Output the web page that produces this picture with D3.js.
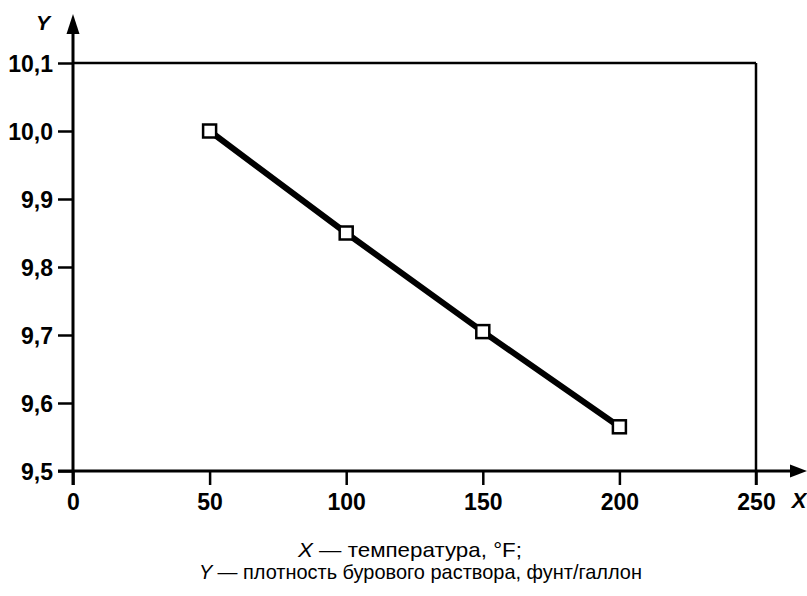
<!DOCTYPE html>
<html><head><meta charset="utf-8">
<script src="https://cdn.jsdelivr.net/npm/d3@7"></script>
<style>body{margin:0;background:#fff}svg{display:block}text{font-family:"Liberation Sans",Arial,sans-serif}</style>
</head><body>
<svg id="c" width="807" height="596"></svg>
<script>
const xVals = [50, 100, 150, 200];
const yVals = [10.0, 9.85, 9.705, 9.565];
const xTicks = [0, 50, 100, 150, 200, 250];
const yTicks = [9.5, 9.6, 9.7, 9.8, 9.9, 10.0, 10.1];
const captionX = "— температура, °F;";
const captionY = "— плотность бурового раствора, фунт/галлон";

const svg = d3.select("#c");
const x = d3.scaleLinear().domain([0, 250]).range([73, 756]);
const y = d3.scaleLinear().domain([9.5, 10.1]).range([471, 63]);
const fmt = d => d3.format(".1f")(d).replace(".", ",");

// frame top and right
svg.append("line").attr("x1", x(0)).attr("x2", x(250)).attr("y1", y(10.1)).attr("y2", y(10.1)).attr("stroke", "#000").attr("stroke-width", 2.5);
svg.append("line").attr("x1", x(250)).attr("x2", x(250)).attr("y1", y(10.1)).attr("y2", y(9.5) + 14).attr("stroke", "#000").attr("stroke-width", 2.5);

// y axis
const ya = svg.append("g").attr("transform", `translate(${x(0)},0)`)
  .call(d3.axisLeft(y).tickValues(yTicks).tickFormat(fmt).tickSize(15).tickPadding(5));
ya.select(".domain").remove();
ya.selectAll("line").attr("stroke", "#000").attr("stroke-width", 2.5);
ya.selectAll("text").style("font-size", "23px").style("font-weight", "bold").style("font-family", "'Liberation Sans',Arial,sans-serif").attr("fill", "#000").attr("dy", "0.36em");
svg.append("line").attr("x1", x(0)).attr("x2", x(0)).attr("y1", y(9.5) + 14).attr("y2", 32).attr("stroke", "#000").attr("stroke-width", 3);
svg.append("path").attr("d", `M${x(0)},14 L${x(0)-6.5},34 L${x(0)+6.5},34 Z`).attr("fill", "#000");
svg.append("text").attr("x", 43).attr("y", 30).attr("text-anchor", "middle").style("font-size", "21px").style("font-weight", "bold").style("font-style", "italic").text("Y");

// x axis
const xa = svg.append("g").attr("transform", `translate(0,${y(9.5)})`)
  .call(d3.axisBottom(x).tickValues(xTicks).tickFormat(d3.format("d")).tickSize(14).tickPadding(5));
xa.select(".domain").remove();
xa.selectAll("line").attr("stroke", "#000").attr("stroke-width", 2.5);
xa.selectAll("text").style("font-size", "23px").style("font-weight", "bold").style("font-family", "'Liberation Sans',Arial,sans-serif").attr("fill", "#000").attr("y", 39).attr("dy", 0);
svg.append("line").attr("x1", x(0) - 15).attr("x2", 792).attr("y1", y(9.5)).attr("y2", y(9.5)).attr("stroke", "#000").attr("stroke-width", 3);
svg.append("path").attr("d", `M807,${y(9.5)} L790,${y(9.5)-6.5} L790,${y(9.5)+6.5} Z`).attr("fill", "#000");
svg.append("text").attr("x", 799).attr("y", 508).attr("text-anchor", "middle").style("font-size", "22px").style("font-weight", "bold").style("font-style", "italic").text("X");

// data
const pts = xVals.map((v, i) => [v, yVals[i]]);
svg.append("path").datum(pts).attr("d", d3.line().x(d => x(d[0])).y(d => y(d[1])))
  .attr("fill", "none").attr("stroke", "#000").attr("stroke-width", 6);
svg.selectAll("rect.m").data(pts).join("rect").attr("class", "m")
  .attr("x", d => x(d[0]) - 6.5).attr("y", d => y(d[1]) - 6.5).attr("width", 13).attr("height", 13)
  .attr("fill", "#fff").attr("stroke", "#000").attr("stroke-width", 2.5);

// caption
const c1 = svg.append("text").attr("x", 298).attr("y", 557).attr("textLength", 224).attr("lengthAdjust", "spacingAndGlyphs").style("font-size", "21px");
c1.append("tspan").style("font-style", "italic").text("X ");
c1.append("tspan").text(captionX);
const c2 = svg.append("text").attr("x", 199).attr("y", 579).attr("textLength", 443).attr("lengthAdjust", "spacingAndGlyphs").style("font-size", "21px");
c2.append("tspan").style("font-style", "italic").text("Y ");
c2.append("tspan").text(captionY);
</script>
</body></html>
